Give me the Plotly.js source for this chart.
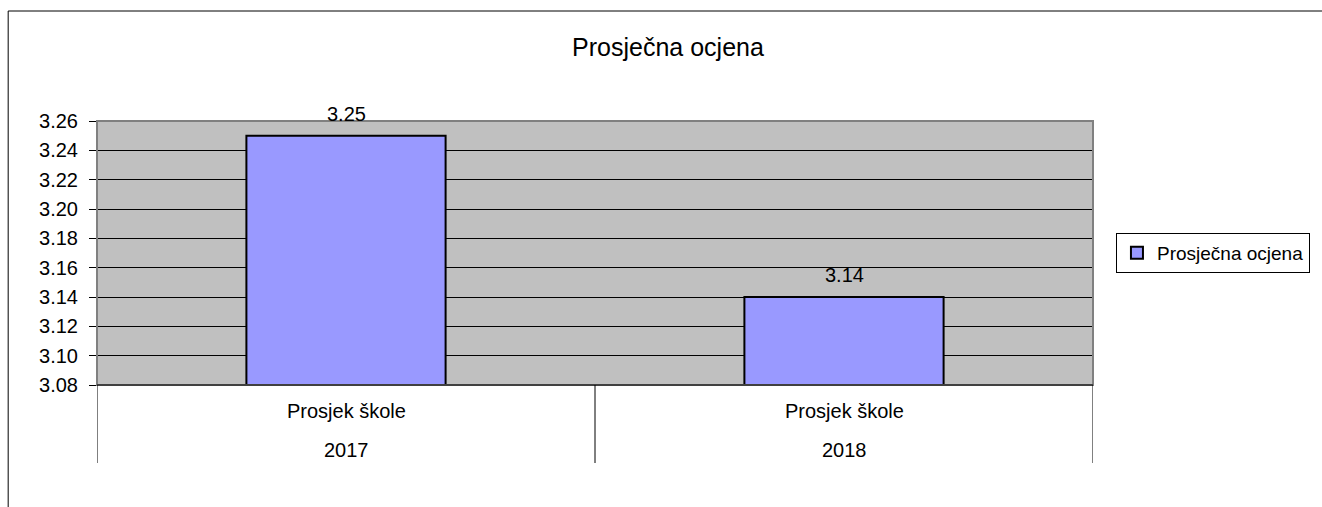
<!DOCTYPE html>
<html><head><meta charset="utf-8">
<script src="https://cdn.plot.ly/plotly-3.0.1.min.js"></script>
<style>html,body{margin:0;padding:0;background:#fff}#chart{width:1322px;height:507px}</style>
</head><body><div id="chart"></div>
<script>
const categories = ["2017", "2018"];
const groupLabels = ["Prosjek škole", "Prosjek škole"];
const values = [3.25, 3.14];
const seriesName = "Prosječna ocjena";
const chartTitle = "Prosječna ocjena";
const yTickVals = [3.08, 3.10, 3.12, 3.14, 3.16, 3.18, 3.20, 3.22, 3.24, 3.26];

const FONT = "Liberation Sans, Arial, sans-serif";

const trace = {
  type: "bar",
  x: categories,
  y: values,
  name: seriesName,
  marker: {color: "#9999FF", line: {color: "#000000", width: 2}},
  showlegend: true,
  hoverinfo: "skip"
};

const annotations = [];
values.forEach((v, i) => {
  annotations.push({x: i, y: v, xref: "x", yref: "y", text: v.toFixed(2),
    showarrow: false, yanchor: "middle", yshift: 22, font: {family: FONT, size: 20, color: "#000"}});
});
categories.forEach((c, i) => {
  annotations.push({x: i, y: 0, xref: "x", yref: "paper", text: groupLabels[i],
    showarrow: false, yanchor: "middle", yshift: -26, font: {family: FONT, size: 20, color: "#000"}});
  annotations.push({x: i, y: 0, xref: "x", yref: "paper", text: c,
    showarrow: false, yanchor: "middle", yshift: -65, font: {family: FONT, size: 20, color: "#000"}});
});

const shapes = [
  {type: "rect", xref: "paper", yref: "paper", x0: 0, x1: 1, y0: 0, y1: 1,
   line: {color: "#808080", width: 2}, layer: "above"},
  {type: "line", xref: "paper", yref: "paper", x0: 0, x1: 1, y0: 0, y1: 0,
   line: {color: "#000", width: 1}, layer: "above"},
  {type: "rect", xref: "paper", yref: "paper", x0: -89/998, x1: 2, y0: -2, y1: 374/264,
   line: {color: "#000", width: 1}, layer: "below"}
];
[-0.5, 0.5, 1.5].forEach(xv => {
  shapes.push({type: "line", xref: "x", yref: "paper", x0: xv, x1: xv, y0: 0, y1: -78/264,
    line: {color: "#000", width: 1}});
});

const layout = {
  width: 1322, height: 507,
  margin: {l: 97, r: 227, t: 121, b: 122},
  paper_bgcolor: "#ffffff",
  plot_bgcolor: "#C0C0C0",
  font: {family: FONT, size: 20, color: "#000"},
  title: {text: chartTitle, font: {family: FONT, size: 25, color: "#000"},
    x: 668/1322, xanchor: "center", y: 1 - 47/507, yanchor: "middle", yref: "container"},
  bargap: 0.6,
  xaxis: {type: "category", range: [-0.5, 1.5], showticklabels: false, ticks: "",
    showgrid: false, zeroline: false, fixedrange: true},
  yaxis: {range: [3.08, 3.26], tickvals: yTickVals, tickformat: ".2f",
    ticks: "outside", ticklen: 7, tickcolor: "#000", tickwidth: 1,
    showline: true, linecolor: "#000", linewidth: 1,
    showgrid: true, gridcolor: "#000", gridwidth: 1, zeroline: false,
    ticklabelstandoff: 7,
    tickfont: {family: FONT, size: 20, color: "#000"}},
  showlegend: true,
  legend: {x: (1118 - 97) / 998, xanchor: "left", y: 0.5, yanchor: "middle",
    bordercolor: "#000", borderwidth: 1, bgcolor: "#fff",
    font: {family: FONT, size: 19, color: "#000"}},
  annotations: annotations,
  shapes: shapes
};

Plotly.newPlot("chart", [trace], layout, {displayModeBar: false, staticPlot: true});
</script></body></html>
